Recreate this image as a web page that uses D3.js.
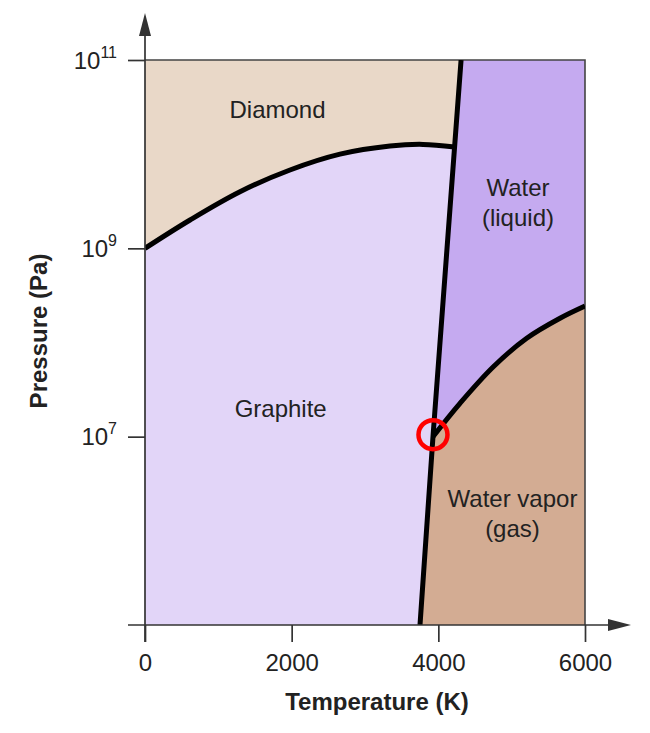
<!DOCTYPE html>
<html>
<head>
<meta charset="utf-8">
<script src="https://cdnjs.cloudflare.com/ajax/libs/d3/7.8.5/d3.min.js"></script>
<style>
  body { margin: 0; background: #fff; }
  svg text { font-family: "Liberation Sans", Arial, sans-serif; fill: #222; }
</style>
</head>
<body>
<div id="chart"></div>
<script>
// phase boundaries, [temperature K, pressure Pa]
var meltLine = [[3750, 1e5], [3927, 1e7], [4310, 1e11]];
var diamondLine = [[0, 1e9], [614, 2.0e9], [1295, 3.99e9], [1977, 6.79e9], [2659, 1.0e10],
                   [3341, 1.22e10], [3791, 1.27e10], [4221, 1.19e10]];
var vaporLine = [[3927, 1e7], [4295, 2.26e7], [4750, 5.53e7], [5205, 1.11e8], [5659, 1.81e8], [6000, 2.44e8]];
var triplePoint = [3927, 1e7];

var xTicks = [0, 2000, 4000, 6000];
var yTicks = [1e7, 1e9, 1e11];
var yTickExp = ["7", "9", "11"];

var regions = [
  {name: "Diamond", lines: ["Diamond"], t: 1807, p: 2.42e10},
  {name: "Graphite", lines: ["Graphite"], t: 1850, p: 1.63e7},
  {name: "Liquid", lines: ["Water", "(liquid)"], t: 5086, p: 3.6e9},
  {name: "Vapor", lines: ["Water vapor", "(gas)"], t: 5011, p: 1.81e6}
];

var W = 650, H = 733;
var margin = {top: 60, right: 65, bottom: 108, left: 145};

var svg = d3.select("#chart").append("svg")
    .attr("width", W)
    .attr("height", H);

var x = d3.scaleLinear().domain([0, 6000]).range([margin.left, W - margin.right]);
var y = d3.scaleLog().domain([1e5, 1e11]).range([H - margin.bottom, margin.top]);

var x0 = x.range()[0], x1 = x.range()[1], y0 = y.range()[0], y1 = y.range()[1];

var curve = d3.line()
    .x(function(d) { return x(d[0]); })
    .y(function(d) { return y(d[1]); })
    .curve(d3.curveCatmullRom.alpha(0.5));

var straight = d3.line()
    .x(function(d) { return x(d[0]); })
    .y(function(d) { return y(d[1]); });

function pt(d) { return "L" + x(d[0]) + "," + y(d[1]); }

svg.append("defs").append("clipPath").attr("id", "plotclip")
  .append("rect")
    .attr("x", x0).attr("y", y1)
    .attr("width", x1 - x0).attr("height", y0 - y1);

var fills = svg.append("g");

// diamond
fills.append("path")
    .attr("d", curve(diamondLine) + pt(meltLine[2]) + pt([0, 1e11]) + "Z")
    .attr("fill", "#e9d8c8");

// graphite
fills.append("path")
    .attr("d", curve(diamondLine) + pt(meltLine[1]) + pt(meltLine[0]) + pt([0, 1e5]) + "Z")
    .attr("fill", "#e2d5f8");

// liquid
fills.append("path")
    .attr("d", "M" + x(meltLine[2][0]) + "," + y(meltLine[2][1]) + pt(meltLine[1]) +
               curve(vaporLine).replace(/^M/, "L") + pt([6000, 1e11]) + "Z")
    .attr("fill", "#c5aaf0");

// vapor
fills.append("path")
    .attr("d", curve(vaporLine) + pt([6000, 1e5]) + pt(meltLine[0]) + "Z")
    .attr("fill", "#d3ac93");

// frame top and right
svg.append("path")
    .attr("d", "M" + x0 + "," + y1 + "H" + x1 + "V" + y0)
    .attr("fill", "none")
    .attr("stroke", "#444")
    .attr("stroke-width", 1.6);

// boundary curves
var bounds = svg.append("g").attr("clip-path", "url(#plotclip)");
bounds.append("path").attr("d", curve(diamondLine));
bounds.append("path").attr("d", curve(vaporLine));
bounds.append("path").attr("d", straight(meltLine));
bounds.selectAll("path")
    .attr("fill", "none")
    .attr("stroke", "#000")
    .attr("stroke-width", 5);

// axes
var defs = svg.select("defs");
defs.append("marker")
    .attr("id", "arrow")
    .attr("viewBox", "0 0 10 10")
    .attr("refX", 0).attr("refY", 5)
    .attr("markerUnits", "userSpaceOnUse")
    .attr("markerWidth", 23).attr("markerHeight", 12)
    .attr("orient", "auto")
    .attr("preserveAspectRatio", "none")
  .append("path")
    .attr("d", "M0,0L10,5L0,10Z")
    .attr("fill", "#333");

var tickLen = 17;

svg.append("line")
    .attr("x1", x0 - tickLen).attr("x2", x1 + 23)
    .attr("y1", y0).attr("y2", y0)
    .attr("stroke", "#333").attr("stroke-width", 1.7)
    .attr("marker-end", "url(#arrow)");

svg.append("line")
    .attr("x1", x0).attr("x2", x0)
    .attr("y1", y0 + tickLen).attr("y2", y1 - 24)
    .attr("stroke", "#333").attr("stroke-width", 1.7)
    .attr("marker-end", "url(#arrow)");

var xAxis = svg.append("g")
    .attr("transform", "translate(0," + y0 + ")")
    .call(d3.axisBottom(x).tickValues(xTicks).tickSize(tickLen).tickPadding(12).tickFormat(d3.format("d")));
xAxis.select(".domain").remove();
xAxis.selectAll(".tick line").attr("stroke", "#333").attr("stroke-width", 1.7);
xAxis.selectAll(".tick text")
    .attr("font-size", 24)
    .attr("font-family", "Liberation Sans, Arial, sans-serif")
    .attr("fill", "#222");

var yAxis = svg.append("g")
    .attr("transform", "translate(" + x0 + ",0)")
    .call(d3.axisLeft(y).tickValues(yTicks).tickSize(tickLen).tickFormat(""));
yAxis.select(".domain").remove();
yAxis.selectAll(".tick line").attr("stroke", "#333").attr("stroke-width", 1.7);
yAxis.selectAll(".tick").each(function(d, i) {
  var t = d3.select(this).append("text")
      .attr("x", -28)
      .attr("y", 8)
      .attr("text-anchor", "end")
      .attr("font-size", 24)
      .attr("font-family", "Liberation Sans, Arial, sans-serif")
      .attr("fill", "#222");
  t.append("tspan").text("10");
  t.append("tspan").attr("dy", -11).attr("font-size", 16).text(yTickExp[i]);
});

// axis titles
svg.append("text")
    .attr("x", (x0 + x1) / 2 + 12)
    .attr("y", 710)
    .attr("text-anchor", "middle")
    .attr("font-size", 24)
    .attr("font-weight", "bold")
    .text("Temperature (K)");

svg.append("text")
    .attr("transform", "translate(47," + 331 + ") rotate(-90)")
    .attr("text-anchor", "middle")
    .attr("font-size", 24)
    .attr("font-weight", "bold")
    .text("Pressure (Pa)");

// region labels
regions.forEach(function(r) {
  var t = svg.append("text")
      .attr("x", x(r.t))
      .attr("y", y(r.p))
      .attr("text-anchor", "middle")
      .attr("font-size", 24);
  r.lines.forEach(function(s, i) {
    t.append("tspan").attr("x", x(r.t)).attr("dy", i === 0 ? 0 : 30).text(s);
  });
});

// triple point marker
svg.append("circle")
    .attr("cx", x(triplePoint[0]))
    .attr("cy", y(triplePoint[1]) - 2)
    .attr("r", 14.5)
    .attr("fill", "none")
    .attr("stroke", "#ff0000")
    .attr("stroke-width", 4.5);
</script>
</body>
</html>
